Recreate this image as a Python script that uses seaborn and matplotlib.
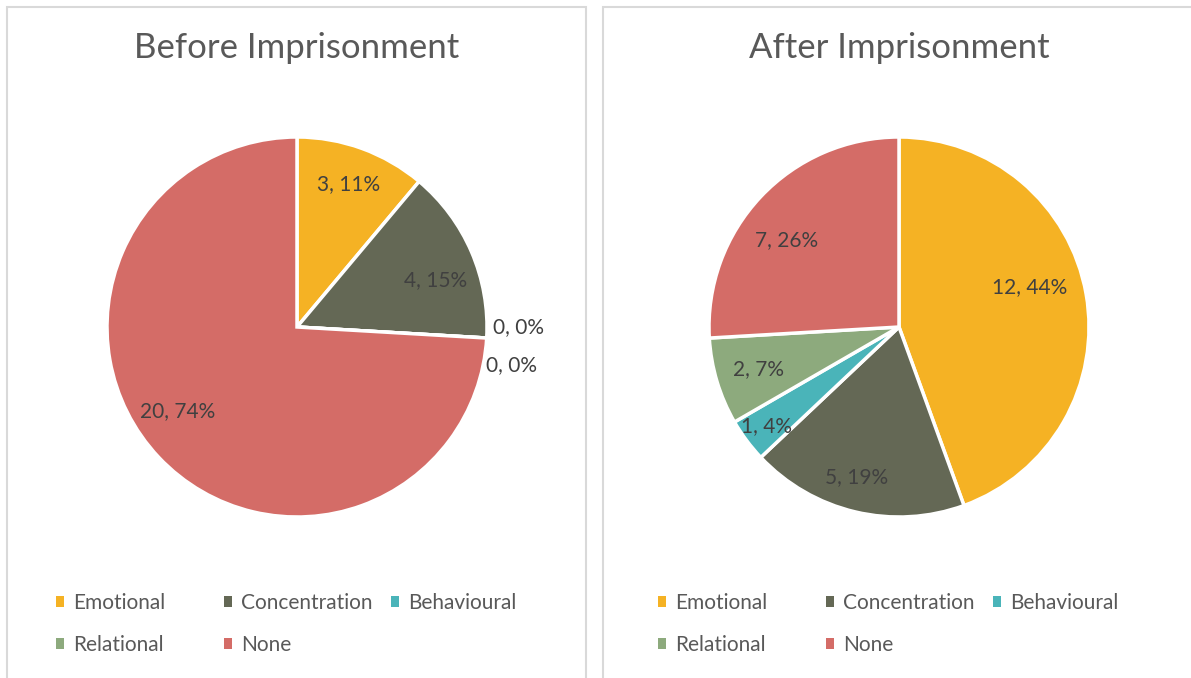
import numpy as np
import matplotlib
matplotlib.use("Agg")
import matplotlib.pyplot as plt
from matplotlib.patches import Rectangle, Patch
import seaborn as sns

categories = ['Emotional', 'Concentration', 'Behavioural', 'Relational', 'None']
before_counts = [3, 4, 0, 0, 20]
after_counts = [12, 5, 1, 2, 7]
titles = ['Before Imprisonment', 'After Imprisonment']

_colors = ['#F5B224', '#646855', '#4AB4B9', '#8DAA7D', '#D46C67']

W, H = 1191, 678

sns.set_theme(style='white')
plt.rcParams['font.family'] = ['Lato', 'DejaVu Sans']

fig = plt.figure(figsize=(W / 100, H / 100), dpi=100)
fig.patch.set_facecolor('white')

# panel frames (bottom / right edges run off the picture)
for x0, x1 in [(7, 586), (603, 1200)]:
    fig.patches.append(Rectangle((x0 / W, -0.05), (x1 - x0) / W, 1 - 7 / H + 0.05,
                                 transform=fig.transFigure, fill=False,
                                 edgecolor='#D9D9D9', linewidth=1.5))

# label placement per slice (Excel "best fit" like): radius and angle nudge
label_r = [[0.8, 0.77, 1.17, 1.17, 0.77], [0.72, 0.82, 0.87, 0.77, 0.75]]
label_da = [[0, -4.5, 0, 0, -8.3], [7, -2.3, 0, 0, 5.7]]
zero_shift = [(0.0, 0.07), (-0.04, -0.13)]

cx_list = [297, 899]
cy, rad = 327, 190

for k, counts in enumerate([before_counts, after_counts]):
    cx = cx_list[k]
    ax = fig.add_axes([(cx - rad) / W, 1 - (cy + rad) / H, 2 * rad / W, 2 * rad / H])
    total = sum(counts)
    wedges, _ = ax.pie(counts, colors=_colors, startangle=90, counterclock=False,
                       radius=1, wedgeprops=dict(edgecolor='white', linewidth=2.5))
    ax.set_xlim(-1, 1)
    ax.set_ylim(-1, 1)
    ax.axis('off')
    nz = 0
    for i, w in enumerate(wedges):
        n = counts[i]
        pct = int(round(100 * n / total))
        mid = np.deg2rad((w.theta1 + w.theta2) / 2 + label_da[k][i])
        r = label_r[k][i]
        x, y = r * np.cos(mid), r * np.sin(mid)
        if n == 0:
            x += zero_shift[nz][0]
            y += zero_shift[nz][1]
            nz += 1
        ax.text(x, y, f'{n}, {pct}%', ha='center', va='center',
                fontsize=15, color='#404040', clip_on=False)

    fig.text(cx / W, 1 - 48 / H, titles[k], ha='center', va='center',
             fontsize=25, color='#595959')

    # legend, Excel style rows
    col_x = [56, 224, 391]
    row_y = [603, 645]
    off = 602 * k
    for i, cat in enumerate(categories):
        row, col = divmod(i, 3)
        h = Patch(facecolor=_colors[i], edgecolor='none')
        fig.legend(handles=[h], labels=[cat], loc='center left',
                   bbox_to_anchor=((col_x[col] + off) / W, 1 - row_y[row] / H),
                   frameon=False, fontsize=15, handlelength=0.4, handleheight=0.4,
                   handletextpad=0.4, borderpad=0, borderaxespad=0,
                   labelcolor='#595959')

fig.savefig('out.png', dpi=100, facecolor='white')
